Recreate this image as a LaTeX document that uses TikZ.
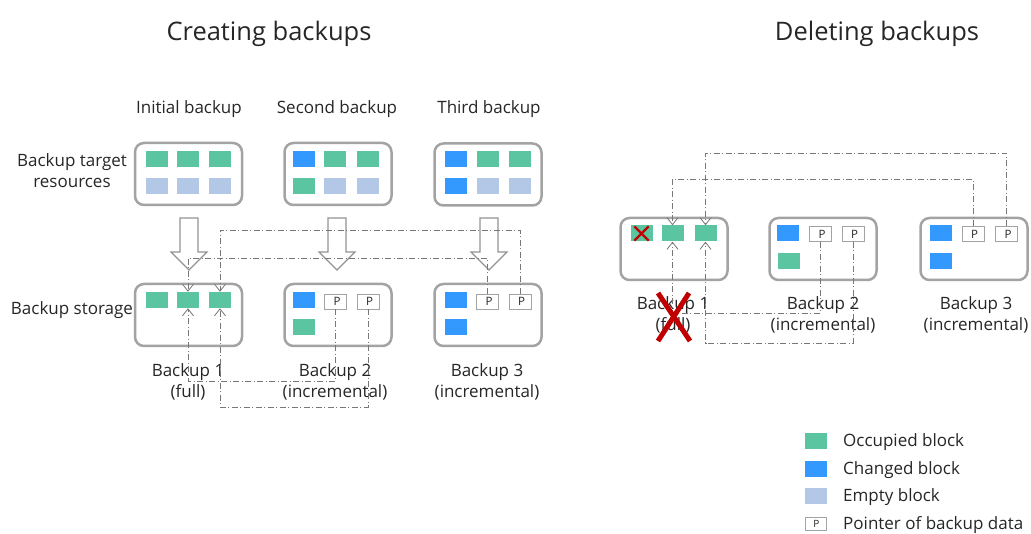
\documentclass[tikz,border=0pt]{standalone}
\usepackage{fontspec}
\setmainfont{Open Sans}
\usetikzlibrary{arrows.meta,calc}
\definecolor{occ}{HTML}{5BC4A0}
\definecolor{chg}{HTML}{3399FF}
\definecolor{emp}{HTML}{B3C7E6}
\definecolor{frame}{HTML}{A3A3A3}
\definecolor{txt}{HTML}{262626}
\definecolor{lin}{HTML}{777777}
\definecolor{xred}{HTML}{C00000}
\begin{document}
\begin{tikzpicture}[x=1pt,y=-1pt,
  every node/.style={text=txt},
  lbl/.style={font=\fontsize{17}{21}\selectfont, align=center, inner sep=0, yshift=-1.5pt},
  ttl/.style={font=\fontsize{25.5}{28}\selectfont, inner sep=0, yshift=-2.5pt},
  cont/.style={draw=frame, line width=2.5pt, rounded corners=9pt, minimum width=107pt, minimum height=62pt, fill=white},
  blk/.style={minimum width=22pt, minimum height=16pt, inner sep=0, draw=none},
  ob/.style={blk, fill=occ},
  cb/.style={blk, fill=chg},
  eb/.style={blk, fill=emp},
  pb/.style={blk, draw=frame, line width=0.8pt, fill=white, minimum width=22pt, minimum height=15pt, font=\fontsize{11.5}{11.5}\selectfont, text=txt},
  ptr/.style={draw=lin, line width=0.7pt, dash pattern=on 6pt off 2.5pt on 1pt off 2.5pt, -{Straight Barb[length=7pt,width=11pt,line width=0.8pt]}},
  hol/.style={draw=frame!90!black, line width=1.2pt, fill=white}
]
\useasboundingbox (0,0) rectangle (1031,534);

% titles
\node[ttl] (t1) at (269,31) {Creating backups};
\node[ttl] (t2) at (877,31) {Deleting backups};

% column headers
\node[lbl] (h1) at (189,108) {Initial backup};
\node[lbl] (h2) at (337,108) {Second backup};
\node[lbl] (h3) at (489,108) {Third backup};

% row labels
\node[lbl] (r1) at (72,169) {Backup target\\resources};
\node[lbl] (r2) at (72,309) {Backup storage};

% hollow arrows
\foreach \cx/\nm in {189/a1,337/a2,489/a3}{
  \draw[hol] (\cx-9,218) -- (\cx+9,218) -- (\cx+9,252) -- (\cx+18,252) -- (\cx,270) -- (\cx-18,252) -- (\cx-9,252) -- cycle;
}

% top containers (left)
\node[cont] (s1) at (188.5,174) {};
\node[cont] (s2) at (338,174) {};
\node[cont] (s3) at (488,174.5) {};
\node[ob] (s1a) at (156.5,159) {};
\node[ob] (s1b) at (188,159) {};
\node[ob] (s1c) at (220,159) {};
\node[eb] (s1d) at (156.5,186) {};
\node[eb] (s1e) at (188,186) {};
\node[eb] (s1f) at (220,186) {};
\node[cb] (s2a) at (304,159) {};
\node[ob] (s2b) at (335,159) {};
\node[ob] (s2c) at (368,159) {};
\node[ob] (s2d) at (304,186) {};
\node[eb] (s2e) at (335,186) {};
\node[eb] (s2f) at (368,186) {};
\node[cb] (s3a) at (455.5,159) {};
\node[ob] (s3b) at (487.5,159) {};
\node[ob] (s3c) at (520,159) {};
\node[cb] (s3d) at (455.5,186) {};
\node[eb] (s3e) at (487.5,186) {};
\node[eb] (s3f) at (520,186) {};

% bottom containers (left)
\node[cont] (c1) at (188.5,315) {};
\node[cont] (c2) at (338,315) {};
\node[cont] (c3) at (488,315) {};
\node[ob] (c1a) at (156.5,300) {};
\node[ob] (c1b) at (188,300) {};
\node[ob] (c1c) at (220,300) {};
\node[cb] (c2a) at (304,300) {};
\node[pb] (c2p1) at (335.5,301.5) {\hspace*{3pt}P};
\node[pb] (c2p2) at (368,301.5) {\hspace*{3pt}P};
\node[ob] (c2d) at (304,327) {};
\node[cb] (c3a) at (455.5,300) {};
\node[pb] (c3p1) at (487.5,301.5) {\hspace*{3pt}P};
\node[pb] (c3p2) at (520,301.5) {\hspace*{3pt}P};
\node[cb] (c3d) at (455.5,327) {};

\node[lbl] (l1) at (188,380) {Backup 1\\(full)};
\node[lbl] (l2) at (335,380) {Backup 2\\(incremental)};
\node[lbl] (l3) at (487,380) {Backup 3\\(incremental)};

% pointer levels (left)
\coordinate (ya) at (0,258);
\coordinate (yb) at (0,230);
\coordinate (yc) at (0,381);
\coordinate (yd) at (0,407);
\draw[ptr] (c3p1.north) -- (c3p1.north |- ya) -| (c1b.north);
\draw[ptr] (c3p2.north) -- (c3p2.north |- yb) -| (c1c.north);
\draw[ptr] (c2p1.south) -- (c2p1.south |- yc) -| (c1b.south);
\draw[ptr] (c2p2.south) -- (c2p2.south |- yd) -| (c1c.south);

% right panel containers
\node[cont] (d1) at (674,249) {};
\node[cont] (d2) at (823,249) {};
\node[cont] (d3) at (974,249) {};
\node[ob] (d1a) at (641.5,233.5) {};
\node[ob] (d1b) at (672.5,233.5) {};
\node[ob] (d1c) at (705.5,233.5) {};
\node[cb] (d2a) at (788,233.5) {};
\node[pb] (d2p1) at (820.5,234) {\hspace*{3pt}P};
\node[pb] (d2p2) at (853,234) {\hspace*{3pt}P};
\node[ob] (d2d) at (789,261) {};
\node[cb] (d3a) at (940.5,233.5) {};
\node[pb] (d3p1) at (973,234) {\hspace*{3pt}P};
\node[pb] (d3p2) at (1006.5,234) {\hspace*{3pt}P};
\node[cb] (d3d) at (940.5,261) {};

\node[lbl] (m1) at (673,313) {Backup 1\\(full)};
\node[lbl] (m2) at (823,313) {Backup 2\\(incremental)};
\node[lbl] (m3) at (976,313) {Backup 3\\(incremental)};

\coordinate (ye) at (0,153);
\coordinate (yf) at (0,179);
\coordinate (yg) at (0,313);
\coordinate (yh) at (0,343);
\draw[ptr] (d3p2.north) -- (d3p2.north |- ye) -| (d1c.north);
\draw[ptr] (d3p1.north) -- (d3p1.north |- yf) -| (d1b.north);
\draw[ptr] (d2p1.south) -- (d2p1.south |- yg) -| (d1b.south);
\draw[ptr] (d2p2.south) -- (d2p2.south |- yh) -| (d1c.south);

% red crosses
\draw[xred, line width=2.2pt] ($(d1a.north west)+(4,1)$) -- ($(d1a.south east)+(-4,-1)$);
\draw[xred, line width=2.2pt] ($(d1a.north east)+(-4,1)$) -- ($(d1a.south west)+(4,-1)$);
\draw[xred, line width=5pt] (658,293) -- (690,341);
\draw[xred, line width=5pt] (689,293) -- (658,341);

% legend
\node[ob] (g1) at (816,441) {};
\node[cb] (g2) at (816,468.5) {};
\node[eb] (g3) at (816,495.5) {};
\node[pb, minimum width=21pt, minimum height=13pt, font=\fontsize{10}{10}\selectfont] (g4) at (815.5,523.5) {\hspace*{2pt}P};
\node[lbl, anchor=west] (k1) at (843,441) {Occupied block};
\node[lbl, anchor=west] (k2) at (843,468.5) {Changed block};
\node[lbl, anchor=west] (k3) at (843,495.5) {Empty block};
\node[lbl, anchor=west] (k4) at (843,523.5) {Pointer of backup data};
\end{tikzpicture}
\end{document}
